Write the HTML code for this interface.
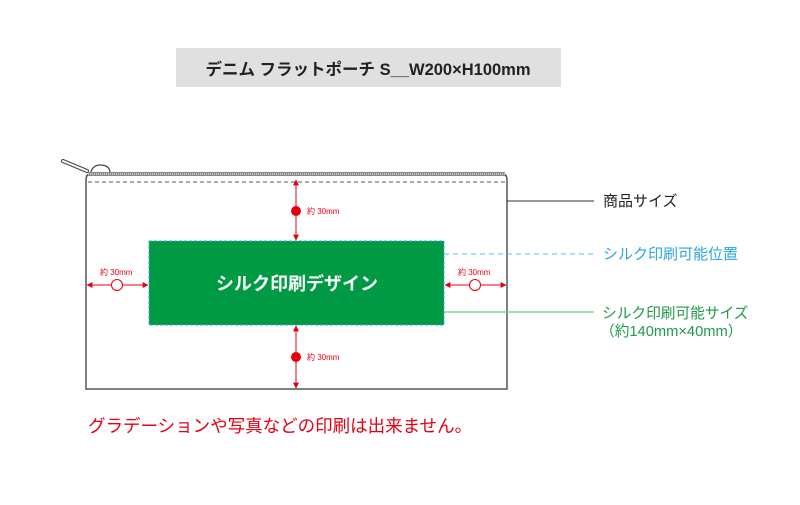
<!DOCTYPE html>
<html><head><meta charset="utf-8"><style>
html,body{margin:0;padding:0;background:#fff;}
svg{display:block;font-family:"Liberation Sans","Noto Sans CJK JP",sans-serif;}
</style></head><body>
<svg width="800" height="505" viewBox="0 0 800 505" xmlns="http://www.w3.org/2000/svg">
<defs>
<marker id="ar" viewBox="0 0 10 10" refX="9" refY="5" markerWidth="6" markerHeight="6" orient="auto-start-reverse"><path d="M0,0 L10,5 L0,10 z" fill="#e60012"/></marker>
</defs>
<rect x="176" y="48" width="385" height="39" fill="#e0e0e0"/>
<text x="368" y="75" text-anchor="middle" font-size="16.5" font-weight="bold" fill="#222">デニム フラットポーチ S__W200×H100mm</text>

<!-- zipper pull -->
<path d="M63,161 L87,171" stroke="#444" stroke-width="4" stroke-linecap="round"/>
<path d="M63,161 L87,171" stroke="#fff" stroke-width="2" stroke-linecap="round"/>
<path d="M90,175 Q92,165 100,165 Q110,165 110,173" fill="none" stroke="#444" stroke-width="1.2"/>
<!-- pouch -->
<path d="M86,389 L86,180 Q86,173 93,173 L500,173 Q507,173 507,180 L507,389 Z" fill="#fff" stroke="#555" stroke-width="1.5"/>
<rect x="88" y="172" width="417" height="4" fill="#888"/>
<line x1="88" y1="174" x2="505" y2="174" stroke="#ddd" stroke-width="1.5" stroke-dasharray="1 1"/>
<line x1="88" y1="182" x2="505" y2="182" stroke="#555" stroke-width="1" stroke-dasharray="4 3"/>

<!-- green area -->
<rect x="149" y="241" width="295" height="84" fill="#009a44" stroke="#3aa8d8" stroke-width="1" stroke-dasharray="3 2"/>
<text x="297" y="290" text-anchor="middle" font-size="18" font-weight="bold" fill="#fff">シルク印刷デザイン</text>

<!-- red dims -->
<line x1="296" y1="180" x2="296" y2="240" stroke="#e60012" stroke-width="1" marker-start="url(#ar)" marker-end="url(#ar)"/>
<circle cx="296" cy="211" r="5" fill="#e60012"/>
<text x="307" y="214" font-size="8" fill="#e60012">約 30mm</text>
<line x1="296" y1="326" x2="296" y2="388" stroke="#e60012" stroke-width="1" marker-start="url(#ar)" marker-end="url(#ar)"/>
<circle cx="296" cy="357" r="5" fill="#e60012"/>
<text x="307" y="360" font-size="8" fill="#e60012">約 30mm</text>
<line x1="87" y1="285" x2="148" y2="285" stroke="#e60012" stroke-width="1" marker-start="url(#ar)" marker-end="url(#ar)"/>
<circle cx="117" cy="285" r="5.5" fill="#fff" stroke="#e60012" stroke-width="1"/>
<text x="100" y="275" font-size="8" fill="#e60012">約 30mm</text>
<line x1="445" y1="285" x2="506" y2="285" stroke="#e60012" stroke-width="1" marker-start="url(#ar)" marker-end="url(#ar)"/>
<circle cx="475" cy="285" r="5.5" fill="#fff" stroke="#e60012" stroke-width="1"/>
<text x="458" y="275" font-size="8" fill="#e60012">約 30mm</text>

<!-- callouts -->
<line x1="507" y1="201" x2="594" y2="201" stroke="#333" stroke-width="1"/>
<text x="603" y="206" font-size="15" fill="#222">商品サイズ</text>
<line x1="444" y1="254" x2="594" y2="254" stroke="#5bc0ea" stroke-width="1" stroke-dasharray="5 4"/>
<text x="603" y="259" font-size="15" fill="#2ca6e0">シルク印刷可能位置</text>
<line x1="444" y1="312" x2="594" y2="312" stroke="#6dca8e" stroke-width="1.2"/>
<text x="602" y="318" font-size="14.7" fill="#1f9a4a">シルク印刷可能サイズ</text>
<text x="600" y="336" font-size="14.7" fill="#1f9a4a">（約140mm×40mm）</text>

<text x="88" y="432" font-size="17.5" fill="#e60012">グラデーションや写真などの印刷は出来ません。</text>
</svg>
</body></html>
